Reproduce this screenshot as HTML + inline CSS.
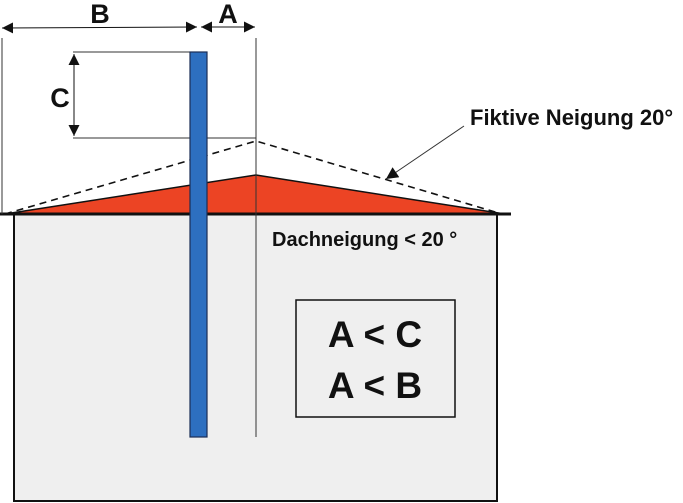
<!DOCTYPE html>
<html><head><meta charset="utf-8"><style>
html,body{margin:0;padding:0;background:#fff;}
svg{display:block;}
text{font-family:"Liberation Sans",sans-serif;font-weight:bold;fill:#111;}
</style></head><body>
<svg width="683" height="503" viewBox="0 0 683 503" xmlns="http://www.w3.org/2000/svg">
<defs>
<marker id="ar" viewBox="0 0 10 10" refX="10" refY="5" markerWidth="11" markerHeight="11" markerUnits="userSpaceOnUse" orient="auto-start-reverse">
<path d="M0,0 L10,5 L0,10 z" fill="#111"/></marker>
<marker id="ar2" viewBox="0 0 10 10" refX="10" refY="5" markerWidth="14" markerHeight="12" markerUnits="userSpaceOnUse" orient="auto">
<path d="M0,0 L10,5 L0,10 z" fill="#111"/></marker>
</defs>
<rect x="14" y="214" width="483" height="287" fill="#efefef" stroke="#111" stroke-width="2"/>
<polygon points="5,214 256,175 505,214" fill="#ec4424" stroke="#111" stroke-width="1.5"/>
<line x1="0" y1="214" x2="511" y2="214" stroke="#111" stroke-width="3"/>
<polyline points="5,214 256,141 502,214" fill="none" stroke="#111" stroke-width="1.6" stroke-dasharray="7,5"/>
<line x1="2" y1="38" x2="2" y2="214" stroke="#333" stroke-width="1"/>
<line x1="256" y1="38" x2="256" y2="437" stroke="#333" stroke-width="1"/>
<line x1="73" y1="52" x2="192" y2="52" stroke="#333" stroke-width="1"/>
<line x1="73" y1="138" x2="256" y2="138" stroke="#333" stroke-width="1"/>
<line x1="74" y1="54" x2="74" y2="136" stroke="#111" stroke-width="1" marker-start="url(#ar)" marker-end="url(#ar)"/>
<line x1="2" y1="28" x2="197" y2="27" stroke="#111" stroke-width="1" marker-start="url(#ar)" marker-end="url(#ar)"/>
<line x1="201" y1="27" x2="255" y2="27" stroke="#111" stroke-width="1" marker-start="url(#ar)" marker-end="url(#ar)"/>
<rect x="190" y="52" width="17" height="385" fill="#2d6fc0" stroke="#1a2d55" stroke-width="1.2"/>
<text x="100" y="23" font-size="27" text-anchor="middle">B</text>
<text x="228" y="23" font-size="27" text-anchor="middle">A</text>
<text x="60" y="107" font-size="27" text-anchor="middle">C</text>
<text x="470" y="125" font-size="22">Fiktive Neigung 20°</text>
<line x1="464" y1="126" x2="386" y2="179" stroke="#333" stroke-width="1" marker-end="url(#ar2)"/>
<text x="272" y="246" font-size="20">Dachneigung &lt; 20 °</text>
<rect x="296" y="300" width="159" height="117" fill="none" stroke="#111" stroke-width="1.5"/>
<text x="375" y="347" font-size="37" text-anchor="middle">A &lt; C</text>
<text x="375" y="398" font-size="37" text-anchor="middle">A &lt; B</text>
</svg>
</body></html>
